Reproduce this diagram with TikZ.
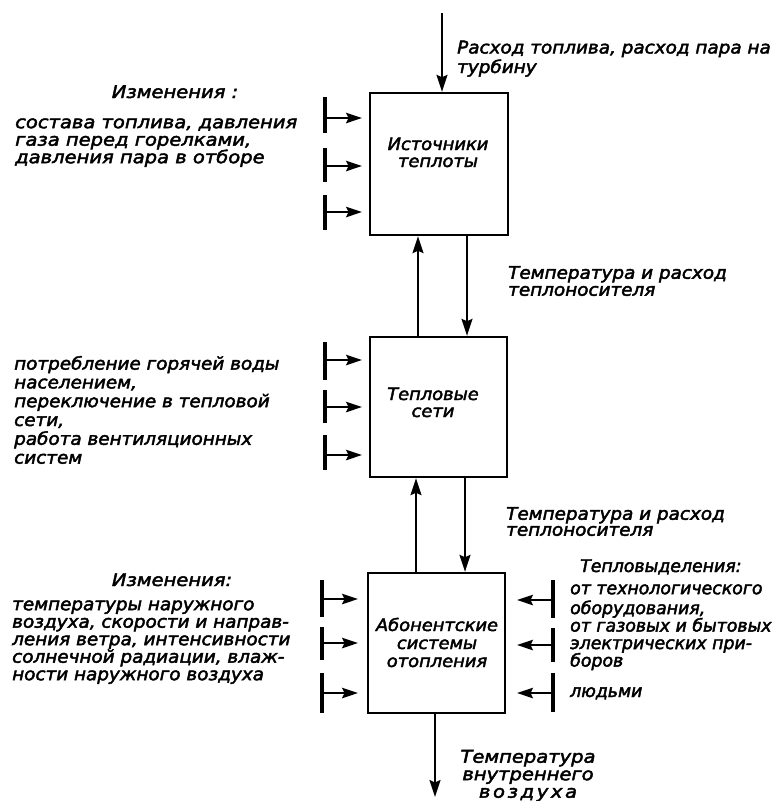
\documentclass[tikz,border=0pt]{standalone}
\usepackage{fontspec}
\newfontfamily\hand{DejaVu Sans Oblique}[FakeStretch=1.05, FakeBold=2.5]
\newfontfamily\handw{DejaVu Sans Oblique}[FakeStretch=1.115, FakeBold=2.5]
\newfontfamily\handn{DejaVu Sans Oblique}[FakeStretch=0.99, FakeBold=2.5]
\usetikzlibrary{arrows.meta}
\tikzset{
  blk/.style={draw, line width=2.4pt, minimum width=137pt, minimum height=140pt, inner sep=0pt},
  flow/.style={line width=1.7pt, -{Stealth[length=17pt,width=11pt,inset=2.5pt]}},
  sflow/.style={line width=1.7pt, -{Stealth[length=16pt,width=10.5pt,inset=2.5pt]}},
  barline/.style={line width=3.2pt},
  txt/.style={inner sep=0pt, align=left, font=\hand\fontsize{17.5}{17.5}\selectfont},
  btxt/.style={inner sep=0pt, align=center, font=\hand\fontsize{17}{17}\selectfont},
}
\begin{document}
\begin{tikzpicture}[x=1pt,y=-1pt]
\useasboundingbox (0,0) rectangle (783,801);

% blocks
\node[blk, minimum width=138pt, minimum height=142pt] (src) at (439,164) {};
\node[blk] (net) at (438.5,407) {};
\node[blk] (abn) at (436.5,643) {};

\node[btxt, anchor=base] (srct) at (438,167) {Источники\\теплоты};
\node[btxt, anchor=base] (nett) at (433,417) {Тепловые\\сети};
\node[btxt, anchor=base, font=\hand\fontsize{17}{18}\selectfont] (abnt) at (437,667) {Абонентские\\системы\\отопления};

% main flows
\coordinate (topin) at (442,13);
\draw[flow] (topin) -- (topin |- src.north);
\draw[flow] ([xshift=28pt]src.south) -- ([xshift=28pt]src.south |- net.north);
\draw[flow] ([xshift=-21pt]src.south |- net.north) -- ([xshift=-21pt]src.south);
\draw[flow] ([xshift=26.5pt]net.south) -- ([xshift=26.5pt]net.south |- abn.north);
\draw[flow] ([xshift=-22.5pt]net.south |- abn.north) -- ([xshift=-22.5pt]net.south);
\coordinate (outend) at (435,797);
\draw[flow] (outend |- abn.south) -- (outend);

% left disturbances
\foreach \n/\x/\t/\y/\a/\b in {
  a1/325/362/118/97/133, a2/325/362/166/148/182, a3/325/362/212/195/230,
  b1/325/362/360/342/380, b2/325/362/407/390/423, b3/325/362/455/435/470,
  c1/322/358/599/580/617, c2/322/358/643/627/660, c3/322/358/693/673/713}{
  \coordinate (\n top) at (\x,\a);
  \coordinate (\n bot) at (\x,\b);
  \coordinate (\n s) at (\x,\y);
  \coordinate (\n e) at (\t,\y);
  \draw[barline] (\n top) -- (\n bot);
  \draw[sflow] (\n s) -- (\n e);
}
% right disturbances
\foreach \n/\y/\a/\b in {r1/600/580/618, r2/645/628/662, r3/693/673/712}{
  \coordinate (\n top) at (553,\a);
  \coordinate (\n bot) at (553,\b);
  \coordinate (\n s) at (553,\y);
  \coordinate (\n e) at (517,\y);
  \draw[barline] (\n top) -- (\n bot);
  \draw[sflow] (\n s) -- (\n e);
}

% texts
\node[txt, anchor=base, font=\handw\fontsize{17.5}{17.5}\selectfont] (h1) at (175,98) {Изменения :};
\node[txt, anchor=north west, font=\handw\fontsize{17.5}{17.5}\selectfont] (l1) at (15,115.75) {\strut состава топлива, давления\\газа перед горелками,\\давления пара в отборе};
\node[txt, anchor=north west, font=\hand\fontsize{17.5}{16.5}\selectfont] (topl) at (457,40.5) {\strut Расход топлива, расход пара на\\турбину};
\node[txt, anchor=north west, font=\hand\fontsize{17.5}{17}\selectfont] (tq1) at (508,265.8) {\strut Температура и расход\\теплоносителя};
\node[txt, anchor=north west, font=\hand\fontsize{17.5}{18.8}\selectfont] (l2) at (14,355.8) {\strut потребление горячей воды\\населением,\\переключение в тепловой\\сети,\\работа вентиляционных\\систем};
\node[txt, anchor=north west, font=\hand\fontsize{17.5}{16}\selectfont] (tq2) at (506,506.8) {\strut Температура и расход\\теплоносителя};
\node[txt, anchor=base, font=\handw\fontsize{17.5}{17.5}\selectfont] (h2) at (172,586) {Изменения:};
\node[txt, anchor=north west] (l3) at (12,597.75) {\strut температуры наружного\\воздуха, скорости и направ-\\ления ветра, интенсивности\\солнечной радиации, влаж-\\ности наружного воздуха};
\node[txt, anchor=base west, font=\handn\fontsize{17.5}{17.5}\selectfont] (h3) at (580,572) {Тепловыделения:};
\node[txt, anchor=north west, font=\handn\fontsize{17.5}{17.5}\selectfont] (r1t) at (570,581.75) {\strut от технологического\\оборудования,\\от газовых и бытовых\\электрических при-\\боров};
\node[txt, anchor=base west, font=\handn\fontsize{17.5}{17.5}\selectfont] (r3t) at (570,697) {людьми};
\node[txt, anchor=north, align=center, font=\handw\fontsize{17.5}{17.5}\selectfont] (outt) at (528,749.75) {\strut Температура\\внутреннего\\{\addfontfeature{LetterSpace=15}воздуха}};
\end{tikzpicture}
\end{document}
